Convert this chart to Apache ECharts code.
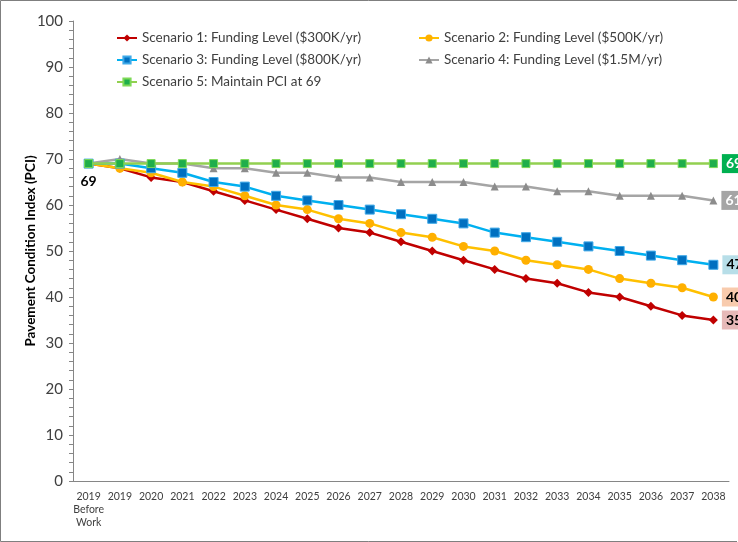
<!DOCTYPE html>
<html>
<head>
<meta charset="utf-8">
<script src="https://cdn.jsdelivr.net/npm/echarts@6/dist/echarts.min.js"></script>
<style>
html,body{margin:0;padding:0;background:#fff;}
#chart{width:738px;height:542px;}
</style>
</head>
<body>
<div id="chart"></div>
<script>
// ---- data ----
const categories = ['2019\nBefore\nWork','2019','2020','2021','2022','2023','2024','2025','2026','2027','2028','2029','2030','2031','2032','2033','2034','2035','2036','2037','2038'];
const scenario1 = [69,68,66,65,63,61,59,57,55,54,52,50,48,46,44,43,41,40,38,36,35];
const scenario2 = [69,68,67,65,64,62,60,59,57,56,54,53,51,50,48,47,46,44,43,42,40];
const scenario3 = [69,69,68,67,65,64,62,61,60,59,58,57,56,54,53,52,51,50,49,48,47];
const scenario4 = [69,70,69,69,68,68,67,67,66,66,65,65,65,64,64,63,63,62,62,62,61];
const scenario5 = [69,69,69,69,69,69,69,69,69,69,69,69,69,69,69,69,69,69,69,69,69];
const seriesNames = [
  'Scenario 1: Funding Level ($300K/yr)',
  'Scenario 2: Funding Level ($500K/yr)',
  'Scenario 3: Funding Level ($800K/yr)',
  'Scenario 4: Funding Level ($1.5M/yr)',
  'Scenario 5: Maintain PCI at 69'
];
const yTicks = {min:0, max:100, interval:10};

const FONT = 'Lato, "Open Sans", sans-serif';

function endLabel(bg, fg){
  return {show:true, position:'right', distance:4, backgroundColor:bg, color:fg,
    fontWeight:'bold', fontSize:14, fontFamily:FONT, padding:[3,4,2,4], formatter:'{c}'};
}

function makeSeries(name, values, cfg){
  const data = values.map((v,i)=>{
    if(i === values.length-1) return {value:v, label:endLabel(cfg.labelBg, cfg.labelColor)};
    if(i === 0 && cfg.firstLabel) return {value:v, label:{show:true, position:'bottom', distance:6, color:'#000', fontWeight:'bold', fontSize:14, fontFamily:FONT, formatter:'{c}'}};
    return v;
  });
  return {
    type:'line', name, data,
    symbol:cfg.symbol, symbolSize:cfg.size,
    lineStyle:{color:cfg.line, width:2.5},
    itemStyle:{color:cfg.marker, borderColor:cfg.border || cfg.marker, borderWidth:cfg.border?1:0},
    emphasis:{disabled:true},
    label:{show:false},
    z: cfg.z
  };
}

const series = [
  makeSeries(seriesNames[0], scenario1, {symbol:'diamond', size:9, line:'#C00000', marker:'#C00000', labelBg:'#E6B9B8', labelColor:'#000', z:2}),
  makeSeries(seriesNames[1], scenario2, {symbol:'circle', size:9, line:'#FFC000', marker:'#FFB000', labelBg:'#F8CBAD', labelColor:'#000', z:2}),
  makeSeries(seriesNames[2], scenario3, {symbol:'rect', size:9, line:'#00B0F0', marker:'#0070C0', border:'#3FA9E8', labelBg:'#B7DEE8', labelColor:'#000', z:2}),
  makeSeries(seriesNames[3], scenario4, {symbol:'triangle', size:8, line:'#A5A5A5', marker:'#8C8C8C', labelBg:'#A5A5A5', labelColor:'#fff', z:2}),
  makeSeries(seriesNames[4], scenario5, {symbol:'rect', size:8, line:'#92D050', marker:'#1FAE4B', border:'#7ED957', labelBg:'#00B050', labelColor:'#fff', firstLabel:true, z:3})
];

const legendText = {fontSize:13.5, color:'#404040', fontFamily:FONT};

const option = {
  animation:false,
  backgroundColor:'#fff',
  grid:{left:73, right:9, top:21, bottom:61, containLabel:false},
  legend:[
    {data:[seriesNames[0], seriesNames[2], seriesNames[4]], orient:'vertical', left:111, top:26,
     itemWidth:20, itemHeight:9, itemGap:8, textStyle:legendText, selectedMode:false},
    {data:[seriesNames[1], seriesNames[3]], orient:'vertical', left:413, top:26,
     itemWidth:20, itemHeight:9, itemGap:8, textStyle:legendText, selectedMode:false}
  ],
  xAxis:{
    type:'category', data:categories, boundaryGap:true,
    axisLine:{lineStyle:{color:'#868686', width:1}},
    axisTick:{show:false},
    axisLabel:{color:'#404040', fontSize:10.5, fontFamily:FONT, margin:9, lineHeight:13, interval:0}
  },
  yAxis:{
    type:'value', min:yTicks.min, max:yTicks.max, interval:yTicks.interval,
    name:'Pavement Condition Index (PCI)', nameLocation:'middle', nameGap:35, nameMoveOverlap:false,
    nameTextStyle:{fontSize:13.5, fontWeight:'bold', color:'#000', fontFamily:FONT},
    axisLine:{show:true, lineStyle:{color:'#868686'}},
    axisTick:{show:true, length:4, lineStyle:{color:'#868686'}},
    minorTick:{show:true, splitNumber:5, length:4, lineStyle:{color:'#868686'}},
    splitLine:{show:false},
    axisLabel:{color:'#404040', fontSize:15, fontFamily:FONT, margin:10}
  },
  graphic:[
    {type:'polyline', shape:{points:[[737,0.5],[0.5,0.5],[0.5,541.5],[737,541.5]]}, style:{stroke:'#7F7F7F', lineWidth:1, fill:null}, silent:true, z:-1}
  ],
  series
};

const chart = echarts.init(document.getElementById('chart'), null, {renderer:'canvas'});
chart.setOption(option);
</script>
</body>
</html>
